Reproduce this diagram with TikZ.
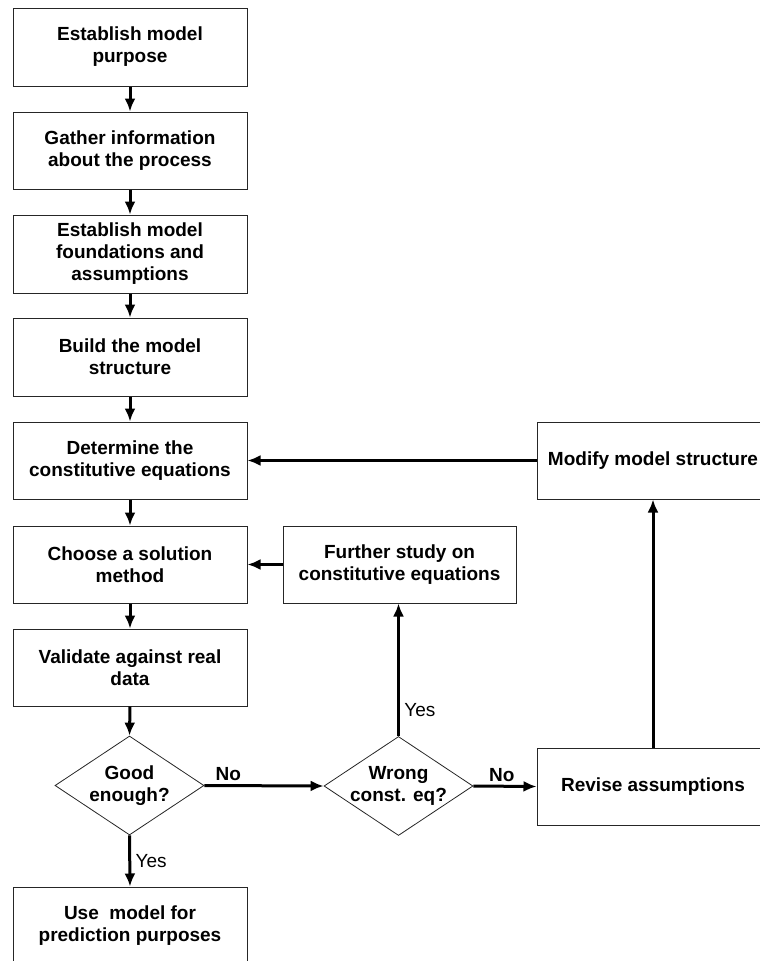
\documentclass[tikz,border=0pt]{standalone}
\usepackage{fontspec}
\setmainfont{Liberation Sans}
\usetikzlibrary{shapes.geometric,arrows.meta}
\begin{document}
\begin{tikzpicture}[x=1pt,y=-1pt,
  every node/.style={font=\fontsize{19}{22}\selectfont\bfseries},
  box/.style={draw=black!85,line width=1pt,minimum width=234pt,minimum height=77pt,inner sep=0pt,align=center},
  dia/.style={draw=black!85,line width=0.8pt,diamond,minimum width=149pt,minimum height=99pt,inner sep=0pt},
  conn/.style={line width=3pt,-{Latex[length=13pt,width=11pt]}},
  plain/.style={font=\fontsize{19}{22}\selectfont\mdseries}]
\useasboundingbox (0,0) rectangle (760,961);
\node[box,minimum height=78pt] (b1) at (130,47) {Establish model\\purpose};
\node[box] (b2) at (130,150.5) {Gather information\\about the process};
\node[box,minimum height=78pt] (b3) at (130,254) {Establish model\\foundations and\\assumptions};
\node[box,minimum height=78pt] (b4) at (130,357) {Build the model\\structure};
\node[box] (b5) at (130,460.5) {Determine the\\constitutive equations};
\node[box] (b6) at (130,564.5) {Choose a solution\\method};
\node[box] (b7) at (130,667.5) {Validate against real\\data};
\node[dia,label={[align=center]center:Good\\enough?}] (d1) at (129.5,785.5) {};
\node[box,minimum height=78pt] (b8) at (130,926) {Use\ \ model for\\prediction purposes};
\node[box,minimum width=233pt] (fs) at (399.5,564.5) {Further study on\\constitutive equations};
\node[dia,label={[align=center]center:Wrong\\const. eq?}] (d2) at (398.5,786) {};
\node[box,minimum width=232pt] (rev) at (653,786.5) {Revise assumptions};
\node[box,minimum width=232pt] (mod) at (653,460.5) {Modify model structure};
\draw[conn] (b1.south) -- (b2.north);
\draw[conn] (b2.south) -- (b3.north);
\draw[conn] (b3.south) -- (b4.north);
\draw[conn] (b4.south) -- (b5.north);
\draw[conn] (b5.south) -- (b6.north);
\draw[conn] (b6.south) -- (b7.north);
\draw[conn] (b7.south) -- (d1.north);
\draw[conn] (d1.south) -- node[plain,right,xshift=1pt] {Yes} (b8.north);
\draw[conn] (d1.east) -- node[above,pos=0.2] {No} (d2.west);
\draw[conn] (d2.north) -- node[plain,right,pos=0.2,xshift=1pt] {Yes} (d2.north |- fs.south);
\draw[conn] (d2.east) -- node[above,pos=0.45] {No} (rev.west);
\draw[conn] (rev.north) -- (mod.south);
\draw[conn] (mod.west) -- (b5.east);
\draw[conn] (fs.west) -- (b6.east);
\end{tikzpicture}
\end{document}
